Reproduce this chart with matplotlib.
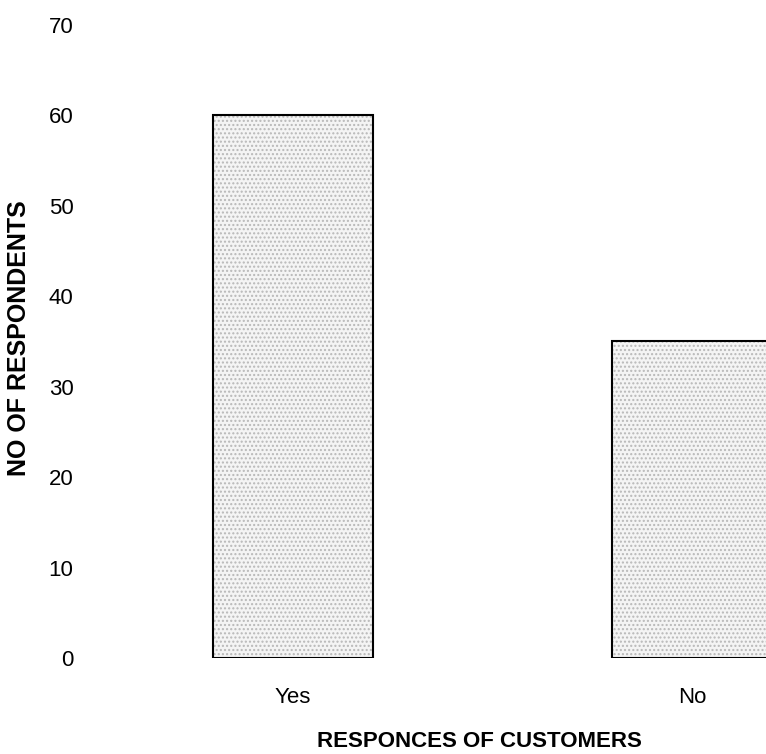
import matplotlib.pyplot as plt

responses = ['Yes', 'No']
respondents = [60, 35]

plt.rcParams['font.family'] = ['Liberation Sans', 'DejaVu Sans']

fig = plt.figure(figsize=(7.66, 7.54), dpi=100)
ax = fig.add_axes([100 / 766, 96 / 754, 666 / 766, 633.5 / 754])

x = list(range(len(responses)))
# stippled grey fill, then a plain black outline on top
ax.bar(x, respondents, width=0.4, color='#f4f4f4', edgecolor='#b8b8b8',
       hatch='....', linewidth=0)
ax.bar(x, respondents, width=0.4, fill=False, edgecolor='black', linewidth=1.5)

ax.set_xlim(-0.484, 1.185)
ax.set_ylim(0, 70)
ax.set_yticks(range(0, 71, 10))
ax.set_xticks(x)
ax.set_xticklabels(responses)

for s in ax.spines.values():
    s.set_visible(False)
ax.tick_params(axis='both', length=0, labelsize=16)
ax.tick_params(axis='y', pad=19)
ax.tick_params(axis='x', pad=21)

fig.text(19 / 766, 416 / 754, 'NO OF RESPONDENTS', rotation=90, ha='center',
         va='center', fontsize=18, fontweight='bold')
fig.text(479 / 766, 7 / 754, 'RESPONCES OF CUSTOMERS', ha='center', va='baseline',
         fontsize=16, fontweight='bold')

fig.savefig('out.png', dpi=100)
